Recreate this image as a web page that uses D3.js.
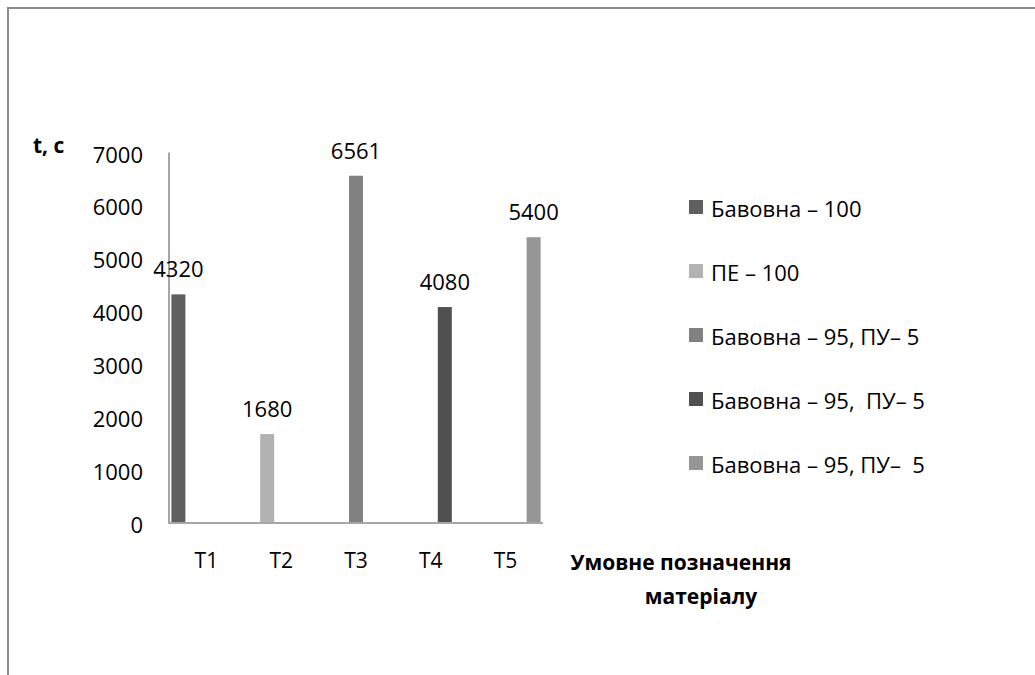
<!DOCTYPE html>
<html>
<head>
<meta charset="utf-8">
<script src="https://cdn.jsdelivr.net/npm/d3@7"></script>
<style>
  body { margin: 0; background: #fff; }
  text { font-family: "Open Sans", sans-serif; fill: #000; white-space: pre; }
</style>
</head>
<body>
<script>
// chart data
const categories = ["T1", "T2", "T3", "T4", "T5"];
const seriesNames = ["Бавовна – 100", "ПЕ – 100", "Бавовна – 95, ПУ– 5", "Бавовна – 95,  ПУ– 5", "Бавовна – 95, ПУ–  5"];
const seriesColors = ["#5f5f5f", "#b2b2b2", "#818181", "#505050", "#969696"];
// each series only has a value in its own category
const values = [4320, 1680, 6561, 4080, 5400];
const yTicks = [0, 1000, 2000, 3000, 4000, 5000, 6000, 7000];

const width = 1035;
const height = 675;

const svg = d3.select("body")
    .append("svg")
    .attr("width", width)
    .attr("height", height);

// outer frame (top and left edges only visible)
svg.append("line")
    .attr("x1", 7).attr("x2", width)
    .attr("y1", 8).attr("y2", 8)
    .attr("stroke", "#8c8c8c").attr("stroke-width", 2);
svg.append("line")
    .attr("x1", 8).attr("x2", 8)
    .attr("y1", 8).attr("y2", height)
    .attr("stroke", "#8c8c8c").attr("stroke-width", 2);

const x = d3.scaleBand()
    .domain(categories)
    .range([169, 543]);

const xInner = d3.scaleBand()
    .domain(seriesNames)
    .range([0, x.bandwidth()])
    .paddingOuter(0.17);

const y = d3.scaleLinear()
    .domain([0, 7000])
    .range([523, 152.5]);

// bars
svg.append("g")
    .selectAll("rect")
    .data(values)
    .enter()
    .append("rect")
    .attr("x", (d, i) => x(categories[i]) + xInner(seriesNames[i]))
    .attr("y", d => y(d))
    .attr("width", xInner.bandwidth())
    .attr("height", d => y(0) - y(d))
    .attr("fill", (d, i) => seriesColors[i]);

// axes lines
svg.append("line")
    .attr("x1", 169).attr("x2", 169)
    .attr("y1", y(7000)).attr("y2", y(0) + 1)
    .attr("stroke", "#a6a6a6").attr("stroke-width", 2);
svg.append("line")
    .attr("x1", 168).attr("x2", 543)
    .attr("y1", y(0)).attr("y2", y(0))
    .attr("stroke", "#a6a6a6").attr("stroke-width", 2);

// y tick labels
svg.append("g")
    .selectAll("text")
    .data(yTicks)
    .enter()
    .append("text")
    .attr("x", 143)
    .attr("y", d => y(d) + 1)
    .attr("text-anchor", "end")
    .attr("dominant-baseline", "central")
    .style("font-size", "22px")
    .text(d => d);

// x tick labels
svg.append("g")
    .selectAll("text")
    .data(categories)
    .enter()
    .append("text")
    .attr("x", d => x(d) + x.bandwidth() / 2)
    .attr("y", 560)
    .attr("text-anchor", "middle")
    .attr("dominant-baseline", "central")
    .style("font-size", "21px")
    .text(d => d);

// data labels
svg.append("g")
    .selectAll("text")
    .data(values)
    .enter()
    .append("text")
    .attr("x", (d, i) => x(categories[i]) + xInner(seriesNames[i]) + xInner.bandwidth() / 2)
    .attr("y", d => y(d) - 26)
    .attr("text-anchor", "middle")
    .attr("dominant-baseline", "central")
    .style("font-size", "22px")
    .text(d => d);

// axis titles
svg.append("text")
    .attr("x", 33)
    .attr("y", 145)
    .attr("dominant-baseline", "central")
    .style("font-size", "21px")
    .style("font-weight", "bold")
    .text("t, c");

svg.append("text")
    .attr("x", 681)
    .attr("y", 562)
    .attr("text-anchor", "middle")
    .attr("dominant-baseline", "central")
    .style("font-size", "21px")
    .style("font-weight", "bold")
    .text("Умовне позначення");

svg.append("text")
    .attr("x", 701)
    .attr("y", 596)
    .attr("text-anchor", "middle")
    .attr("dominant-baseline", "central")
    .style("font-size", "21px")
    .style("font-weight", "bold")
    .text("матеріалу");

// legend
const legend = svg.append("g");
const legendItems = legend.selectAll("g")
    .data(seriesNames)
    .enter()
    .append("g")
    .attr("transform", (d, i) => `translate(689, ${207 + i * 64})`);

legendItems.append("rect")
    .attr("x", 0)
    .attr("y", -7)
    .attr("width", 14)
    .attr("height", 14)
    .attr("fill", (d, i) => seriesColors[i]);

legendItems.append("text")
    .attr("x", 22)
    .attr("y", 1)
    .attr("dominant-baseline", "central")
    .style("font-size", "22px")
    .text(d => d);
</script>
</body>
</html>
